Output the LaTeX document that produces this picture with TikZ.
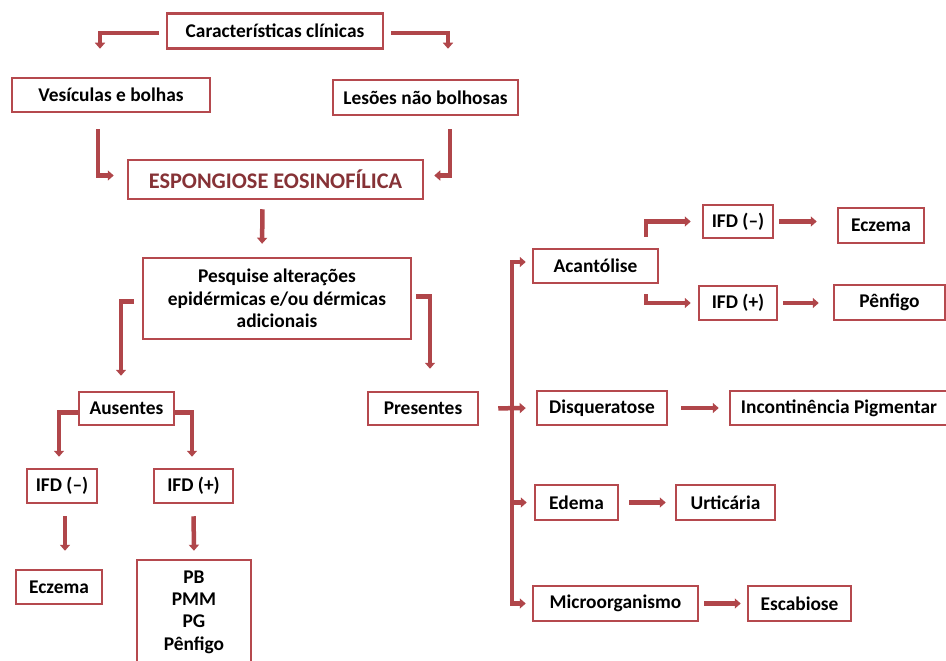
\documentclass[tikz,border=0pt]{standalone}
\usepackage{fontspec}
\setmainfont{Carlito}
\usetikzlibrary{arrows.meta,calc}
\definecolor{boxred}{RGB}{181,73,78}
\definecolor{arrred}{RGB}{176,70,74}
\definecolor{titred}{RGB}{134,50,54}
\tikzset{
  box/.style={draw=boxred, line width=2.5pt, fill=white, inner sep=0pt, align=center,
    font=\fontsize{19.4}{22}\selectfont\bfseries, text=black},
  arr/.style={draw=arrred, line width=4.5pt, -{Triangle[length=6pt,width=10pt]}},
}
\begin{document}
\begin{tikzpicture}[x=1pt,y=-1pt]
\useasboundingbox[fill=white] (0,0) rectangle (946,661);
% left part
\node[box, minimum width=216, minimum height=35] (carac) at (275,31) {Características clínicas};
\node[box, minimum width=198, minimum height=34] (ves) at (111,95) {Vesículas e bolhas};
\node[box, minimum width=185, minimum height=35] (les) at (425.5,97.5) {Lesões não bolhosas};
\node[box, minimum width=295, minimum height=39, text=titred, font=\fontsize{22.3}{24}\selectfont\bfseries] (esp) at (275.5,179.5) {ESPONGIOSE EOSINOFÍLICA};
\node[box, minimum width=268, minimum height=81, font=\fontsize{19.4}{22.5}\selectfont\bfseries] (pesq) at (277,298.5) {Pesquise alterações\\epidérmicas e/ou dérmicas\\adicionais};
\node[box, minimum width=95, minimum height=33] (aus) at (126.5,408.5) {Ausentes};
\node[box, minimum width=110, minimum height=33] (pres) at (423,408.5) {Presentes};
\node[box, minimum width=70, minimum height=34] (ifdm) at (62,486) {IFD (–)};
\node[box, minimum width=79, minimum height=34] (ifdp) at (193.5,486) {IFD (+)};
\node[box, minimum width=86, minimum height=34] (ecz) at (59,587) {Eczema};
\node[box, minimum width=114, minimum height=104, font=\fontsize{19.4}{22.3}\selectfont\bfseries] (pb) at (194,612) {PB\\PMM\\PG\\Pênfigo};
% right part
\node[box, minimum width=125, minimum height=34] (acan) at (595.5,266) {Acantólise};
\node[box, minimum width=70, minimum height=33] (ifdm2) at (738,221.5) {IFD (–)};
\node[box, minimum width=86, minimum height=35] (ecz2) at (881,225.5) {Eczema};
\node[box, minimum width=78, minimum height=34] (ifdp2) at (738,303) {IFD (+)};
\node[box, minimum width=111, minimum height=35] (penf) at (889.5,302.5) {Pênfigo};
\node[box, minimum width=130, minimum height=34] (disq) at (602,408) {Disqueratose};
\node[box, minimum width=218, minimum height=34] (incont) at (839,408) {Incontinência Pigmentar};
\node[box, minimum width=83, minimum height=35] (edema) at (576.5,502.5) {Edema};
\node[box, minimum width=99, minimum height=35] (urt) at (725.5,502.5) {Urticária};
\node[box, minimum width=165, minimum height=35] (micro) at (615.5,603.5) {Microorganismo};
\node[box, minimum width=103, minimum height=35] (escab) at (799.5,603.5) {Escabiose};
\coordinate (tt) at (512,262);
\coordinate (tb) at (512,603.5);
% connectors, left
\draw[arr, shorten <=7pt, shorten >=28pt] ($(carac.west)+(0,2)$) -| ($(ves.north)+(-11,0)$);
\draw[arr, shorten <=7pt, shorten >=30pt] ($(carac.east)+(0,2)$) -| ($(les.north)+(22.5,0)$);
\draw[arr, shorten <=16pt, shorten >=13pt] ($(ves.south)+(-13,0)$) |- ($(esp.west)+(0,-4)$);
\draw[arr, shorten <=13pt, shorten >=10pt] ($(les.south)+(24.5,0)$) |- ($(esp.east)+(0,-4)$);
\draw[arr, shorten <=9pt, shorten >=13pt] ($(esp.south)+(-13,0)$) -- ($(pesq.north)+(-15,0)$);
\draw[arr, shorten <=8pt, shorten >=15pt] ($(pesq.west)+(0,3)$) -| ($(aus.north)+(-5.5,0)$);
\draw[arr, shorten <=4pt, shorten >=22pt] ($(pesq.east)+(0,-2)$) -| ($(pres.north)+(7,0)$);
\draw[arr, shorten >=11pt] ($(aus.west)+(0,4)$) -| ($(ifdm.north)+(-3,0)$);
\draw[arr, shorten >=11pt] ($(aus.east)+(0,4)$) -| ($(ifdp.north)+(-1.5,0)$);
\draw[arr, shorten <=12pt, shorten >=18pt] ($(ifdm.south)+(3,0)$) -- ($(ecz.north)+(6,0)$);
\draw[arr, shorten <=12pt, shorten >=8pt] (ifdp.south) -- (pb.north);
% connectors, right
\draw[arr, shorten >=6pt] (tb) |- ($(acan.west)+(0,-4)$);
\draw[arr, shorten >=6pt] (tt) |- (micro.west);
\draw[arr, shorten <=19pt, shorten >=10pt] (pres.east) -- (disq.west);
\draw[arr, shorten >=7pt] (tt |- edema.west) -- (edema.west);
\draw[arr, shorten <=11pt, shorten >=11pt] ($(acan.north)+(50.5,0)$) |- (ifdm2.west);
\draw[arr, shorten <=10pt, shorten >=7pt] ($(acan.south)+(50.5,0)$) |- (ifdp2.west);
\draw[arr, shorten <=5pt, shorten >=20pt] (ifdm2.east) -- (ifdm2.east -| ecz2.west);
\draw[arr, shorten <=5pt, shorten >=14pt] (ifdp2.east) -- (ifdp2.east -| penf.west);
\draw[arr, shorten <=13pt, shorten >=10pt] (disq.east) -- (incont.west);
\draw[arr, shorten <=10pt, shorten >=9pt] (edema.east) -- (urt.west);
\draw[arr, shorten <=5pt, shorten >=6pt] (micro.east) -- (escab.west);
\end{tikzpicture}
\end{document}
